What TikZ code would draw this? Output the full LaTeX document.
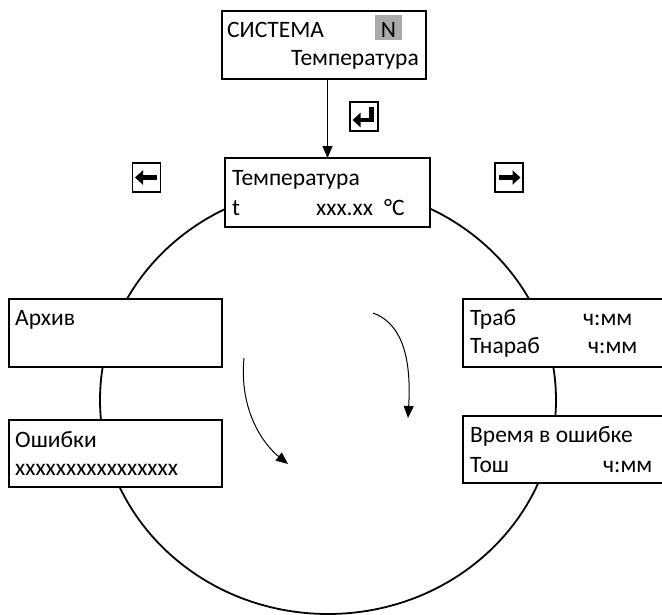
\documentclass[tikz,border=0pt]{standalone}
\usepackage{fontspec}
\setmainfont{Carlito}
\usepackage{xcolor}
\usetikzlibrary{arrows.meta,positioning,calc}

\definecolor{keygray}{RGB}{170,170,170}

\begin{document}
\begin{tikzpicture}[
    >={Triangle[length=12pt,width=10pt]},
    x=1pt, y=-1pt,
    screen/.style={draw,line width=2.2pt,fill=white,inner sep=0pt,outer sep=0pt,
                   anchor=north west},
    txt/.style={inner sep=0pt,anchor=base west,font=\fontsize{23.5}{28}\selectfont},
    keybox/.style={draw,line width=1.4pt,minimum width=28pt,minimum height=29pt,
                   inner sep=0pt,outer sep=0pt},
    keyarrow/.style={line width=5pt,line join=miter,-{Triangle[length=8pt,width=14pt]}},
    flow/.style={->,line width=1pt},
  ]
  \useasboundingbox (0,0) rectangle (662,614);
  \clip (0,0) rectangle (662,614);

  % --- ring of screens ---
  \coordinate (ringc) at (328,400);
  \draw[line width=1.8pt] (ringc) ellipse [x radius=228pt, y radius=214pt];

  % --- screens ---
  \node[screen,minimum width=204pt,minimum height=68pt] (sys)   at (222,11)  {};
  \node[screen,minimum width=205pt,minimum height=69pt] (temp)  at (225,158) {};
  \node[screen,minimum width=213pt,minimum height=68pt] (arch)  at (9,299)   {};
  \node[screen,minimum width=213pt,minimum height=67pt] (err)   at (9,420)   {};
  \node[screen,minimum width=220pt,minimum height=68pt] (trab)  at (463,299) {};
  \node[screen,minimum width=220pt,minimum height=67pt] (etime) at (463,416) {};

  % --- screen texts ---
  \node[txt] (sysname) at (227,37.5) {СИСТЕМА};
  \node[txt,anchor=base,fill=keygray,minimum width=27pt,
        text height=22.5pt,text depth=2.5pt] (sysn) at (388.5,37.5) {N};
  \node[txt,anchor=base east] (sysmenu) at (419,65) {Температура};

  \node[txt] (tempname) at (232,185) {Температура};
  \node[txt] (tempsym)  at (232,215) {t};
  \node[txt] (tempval)  at (316,215) {xxx.xx};
  \node[txt] (tempunit) at (384,215) {°C};

  \node[txt] (archname) at (15,325) {Архив};
  \node[txt] (errname)  at (15,447) {Ошибки};
  \node[txt] (errcode)  at (15,475) {xxxxxxxxxxxxxxxx};

  \node[txt] (trabname)  at (470,325) {Траб};
  \node[txt] (trabval)   at (583,325) {ч:мм};
  \node[txt] (tnarname)  at (470,353) {Тнараб};
  \node[txt] (tnarval)   at (588,353) {ч:мм};
  \node[txt] (etimename) at (470,442) {Время в ошибке};
  \node[txt] (toshname)  at (470,472) {Тош};
  \node[txt] (toshval)   at (603,472) {ч:мм};

  % --- keys ---
  \node[keybox] (keyent) at (364,116.5) {};
  \node[keybox] (keyl)   at (146.5,177.5) {};
  \node[keybox] (keyr)   at (509,177.5) {};
  \draw[keyarrow] ([shift={(10.5,0)}]keyl.center) -- ([shift={(-11.5,0)}]keyl.center);
  \draw[keyarrow] ([shift={(-10.5,0)}]keyr.center) -- ([shift={(11.5,0)}]keyr.center);
  \draw[keyarrow,line width=4.5pt] ([shift={(7.5,-10)}]keyent.center) -- ++(0,13.5) -- ++(-19,0);

  % --- flow arrows ---
  \draw[flow,line width=1.2pt] (temp.north |- sys.south) -- (temp.north);
  \coordinate (cw1s) at (373,313);
  \coordinate (cw1e) at (408,418);
  \draw[flow] (cw1s) .. controls (398,322) and (412,350) .. (cw1e);
  \coordinate (cw2s) at (244,358);
  \coordinate (cw2e) at (288,464);
  \draw[flow] (cw2s) .. controls (239,410) and (263,444) .. (cw2e);

\end{tikzpicture}
\end{document}
